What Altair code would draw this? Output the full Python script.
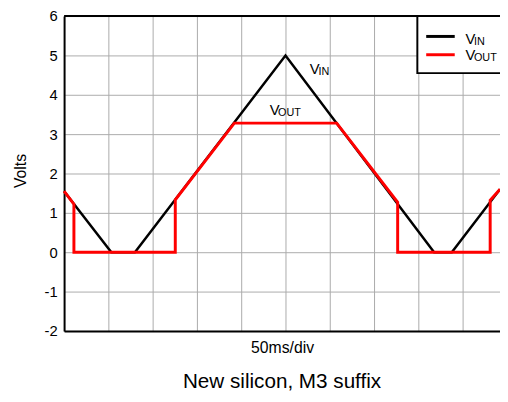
import altair as alt
import pandas as pd

FONT = "Liberation Sans"

# time axis in divisions (50 ms/div), voltage in volts
vin_x = [0.0, 1.067, 1.60, 5.0, 8.356, 8.756, 9.844]
vin_y = [1.55, 0.0, 0.0, 5.0, 0.0, 0.0, 1.60]

vout_x = [0.0, 0.222, 0.222, 2.511, 2.511, 3.844, 6.156, 7.533, 7.533, 9.622, 9.622, 9.844]
vout_y = [1.55, 1.22, 0.0, 0.0, 1.33, 3.28, 3.28, 1.27, 0.0, 0.0, 1.32, 1.60]

y_ticks = [-2, -1, 0, 1, 2, 3, 4, 5, 6]
x_grid = [0, 1, 2, 3, 4, 5, 6, 7, 8, 9]

# in-plot annotations (data coordinates)
ann_main = ["V", "V"]
ann_main_x = [5.55, 4.644]
ann_main_y = [4.54, 3.48]
ann_sub = ["IN", "OUT"]
ann_sub_x = [5.745, 4.833]
ann_sub_y = [4.51, 3.47]

vin = pd.DataFrame({"t": vin_x, "v": vin_y, "o": range(len(vin_x))})
vout = pd.DataFrame({"t": vout_x, "v": vout_y, "o": range(len(vout_x))})

xs = alt.Scale(domain=[0, 9.844], nice=False, zero=False)
ys = alt.Scale(domain=[-2, 6], nice=False, zero=False)

x_axis = alt.Axis(values=x_grid, labels=False, ticks=False, grid=True,
                  gridColor="#aaaaaa", gridWidth=1, domainColor="black",
                  domainWidth=2, title="50ms/div", titleFont=FONT,
                  titleFontSize=16, titleFontWeight="normal", titleColor="black",
                  titleX=221.5, titleY=17, titleAlign="center",
                  titleBaseline="middle")
y_axis = alt.Axis(values=y_ticks, ticks=False, labelPadding=7, grid=True,
                  labelOverlap=False, labelExpr="'' + datum.value",
                  gridColor="#aaaaaa", gridWidth=1, domainColor="black",
                  domainWidth=2, labelFont=FONT, labelFontSize=15,
                  labelColor="black", title="Volts", titleFont=FONT,
                  titleFontSize=16, titleFontWeight="normal", titleColor="black",
                  titleX=-44, titleY=157, titleAngle=270, titleAlign="center",
                  titleBaseline="middle")


def X(field):
    return alt.X(field, scale=xs, axis=x_axis)


def Y(field):
    return alt.Y(field, scale=ys, axis=y_axis)


base_vin = alt.Chart(vin).mark_line(color="black", strokeWidth=2.5).encode(
    x=X("t:Q"), y=Y("v:Q"), order="o:Q")
line_vout = alt.Chart(vout).mark_line(color="#ff0000", strokeWidth=3).encode(
    x=X("t:Q"), y=Y("v:Q"), order="o:Q")

top_rule = alt.Chart(pd.DataFrame({"v": [6]})).mark_rule(
    color="black", strokeWidth=2).encode(
    y=Y("v:Q"), x=alt.value(0), x2=alt.value(445))

ann1 = pd.DataFrame({"t": ann_main_x, "v": ann_main_y, "s": ann_main})
ann2 = pd.DataFrame({"t": ann_sub_x, "v": ann_sub_y, "s": ann_sub})
ann_big = alt.Chart(ann1).mark_text(font=FONT, fontSize=15, align="left",
                                    baseline="alphabetic", color="black").encode(
    x=X("t:Q"), y=Y("v:Q"), text="s:N")
ann_small = alt.Chart(ann2).mark_text(font=FONT, fontSize=11, align="left",
                                      baseline="alphabetic", color="black").encode(
    x=X("t:Q"), y=Y("v:Q"), text="s:N")

# legend box (drawn manually to allow subscripts)
leg_names = ["VIN", "VOUT"]
leg_colors = ["black", "#ff0000"]
leg_box = alt.Chart(pd.DataFrame({"a": [0]})).mark_rect(
    fill="white", stroke="black", strokeWidth=2).encode(
    x=alt.value(359), x2=alt.value(460), y=alt.value(0), y2=alt.value(58))
leg_df = pd.DataFrame({"name": leg_names, "c": leg_colors,
                       "main": ["V", "V"], "sub": ["IN", "OUT"],
                       "ly": [20.7, 39.3], "tb": [28.3, 45.0], "sb": [29.5, 46.0]})
leg_lines = alt.Chart(leg_df).mark_rule(strokeWidth=3).encode(
    x=alt.value(368), x2=alt.value(397), y=alt.Y("ly:Q", scale=None),
    color=alt.Color("c:N", scale=None))
leg_main = alt.Chart(leg_df).mark_text(font=FONT, fontSize=15, align="left",
                                       baseline="alphabetic", color="black").encode(
    x=alt.value(408), y=alt.Y("tb:Q", scale=None), text="main:N")
leg_sub = alt.Chart(leg_df).mark_text(font=FONT, fontSize=11, align="left",
                                      baseline="alphabetic", color="black").encode(
    x=alt.value(416.5), y=alt.Y("sb:Q", scale=None), text="sub:N")

chart = alt.layer(base_vin, line_vout, top_rule, ann_big, ann_small,
                  leg_box, leg_lines, leg_main, leg_sub).properties(
    width=443, height=320,
    autosize=alt.AutoSizeParams(type="none"),
    padding={"left": 57, "top": 5, "right": 0, "bottom": 68},
    title=alt.TitleParams("New silicon, M3 suffix", orient="bottom",
                          font=FONT, fontSize=21, fontWeight="normal",
                          color="black", offset=16, anchor="middle"),
).configure_view(stroke=None).configure(background="white")

chart.save("out.html", embed_options={"renderer": "svg", "actions": False})
